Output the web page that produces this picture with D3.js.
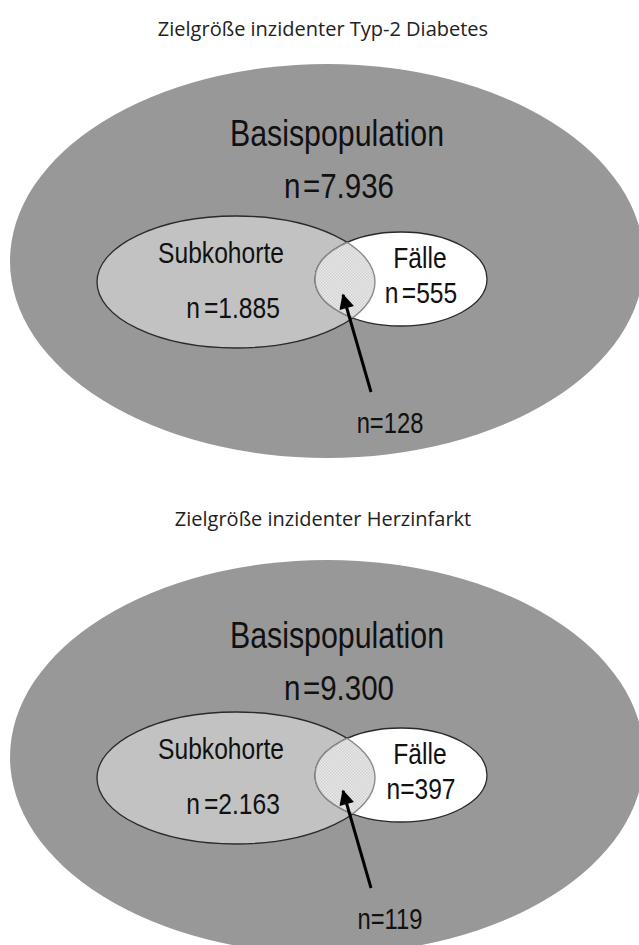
<!DOCTYPE html>
<html>
<head>
<meta charset="utf-8">
<script src="https://cdn.jsdelivr.net/npm/d3@7"></script>
<style>
  body { margin: 0; background: #fff; }
  .lbl { font-family: "Liberation Sans", Arial, sans-serif; fill: #111; text-anchor: middle; }
  .title { font-family: "Open Sans", "Noto Sans", sans-serif; fill: #222; text-anchor: middle; }
</style>
</head>
<body>
<svg id="chart" width="639" height="945"></svg>
<script>
const titles = ["Zielgröße inzidenter Typ-2 Diabetes", "Zielgröße inzidenter Herzinfarkt"];
const basisN = [7936, 9300];
const subkohorteN = [1885, 2163];
const faelleN = [555, 397];
const overlapN = [128, 119];

const de = d3.formatLocale({ decimal: ",", thousands: ".", grouping: [3], currency: ["", " €"] });
const fmt = de.format(",d");

const svg = d3.select("#chart");
const panelY = d3.scaleLinear().domain([0, 1]).range([0, 496]);
const narrow = 0.82; // the original labels use a condensed Arial

// pattern for the overlap area
const defs = svg.append("defs");
const pat = defs.append("pattern")
    .attr("id", "dots")
    .attr("width", 3).attr("height", 3)
    .attr("patternUnits", "userSpaceOnUse");
pat.append("rect").attr("width", 3).attr("height", 3).attr("fill", "#e9e9e9");
pat.append("rect").attr("width", 1.5).attr("height", 1.5).attr("fill", "#d2d2d2");
pat.append("rect").attr("x", 1.5).attr("y", 1.5).attr("width", 1.5).attr("height", 1.5).attr("fill", "#d2d2d2");

defs.append("marker")
    .attr("id", "head")
    .attr("viewBox", "0 0 10 10")
    .attr("refX", 9).attr("refY", 5)
    .attr("markerWidth", 6).attr("markerHeight", 5)
    .attr("markerUnits", "strokeWidth")
    .attr("orient", "auto")
    .append("path").attr("d", "M0,0L10,5L0,10z").attr("fill", "#000");

const sub = { cx: 236, cy: 282, rx: 139, ry: 66 };
const cas = { cx: 401, cy: 279, rx: 86, ry: 47 };

function label(g, x, y, size, text, gap) {
    const t = g.append("g")
        .attr("transform", `translate(${x},${y}) scale(${narrow},1)`)
        .append("text").attr("class", "lbl")
        .style("font-size", `${size}px`);
    if (gap) {
        // "n =..." with the little gap seen in the original
        t.append("tspan").text("n");
        t.append("tspan").attr("dx", gap).text(text.slice(1));
    } else {
        t.text(text);
    }
}

titles.forEach((title, i) => {
    const g = svg.append("g").attr("transform", `translate(0,${panelY(i)})`);
    const extra = i === 1 ? 6 : 0;

    svg.append("text").attr("class", "title")
        .attr("x", 323).attr("y", 36 + panelY(i) - (i === 1 ? 6 : 0))
        .style("font-size", "20px")
        .text(title);

    g.append("ellipse")
        .attr("cx", 327).attr("cy", 261).attr("rx", 317).attr("ry", 197)
        .attr("fill", "#989898");

    // clip paths
    defs.append("clipPath").attr("id", `clipSub${i}`)
        .append("ellipse").attr("cx", sub.cx).attr("cy", sub.cy).attr("rx", sub.rx).attr("ry", sub.ry);
    defs.append("clipPath").attr("id", `clipCas${i}`)
        .append("ellipse").attr("cx", cas.cx).attr("cy", cas.cy).attr("rx", cas.rx).attr("ry", cas.ry);

    g.append("ellipse")
        .attr("cx", sub.cx).attr("cy", sub.cy).attr("rx", sub.rx).attr("ry", sub.ry)
        .attr("fill", "#c2c2c2").attr("stroke", "#2a2a2a").attr("stroke-width", 1.3);
    g.append("ellipse")
        .attr("cx", cas.cx).attr("cy", cas.cy).attr("rx", cas.rx).attr("ry", cas.ry)
        .attr("fill", "#fff").attr("stroke", "#2a2a2a").attr("stroke-width", 1.3);

    // overlap
    g.append("ellipse")
        .attr("clip-path", `url(#clipSub${i})`)
        .attr("cx", cas.cx).attr("cy", cas.cy).attr("rx", cas.rx).attr("ry", cas.ry)
        .attr("fill", "url(#dots)").attr("stroke", "#8c8c8c").attr("stroke-width", 1.4);
    g.append("ellipse")
        .attr("clip-path", `url(#clipCas${i})`)
        .attr("cx", sub.cx).attr("cy", sub.cy).attr("rx", sub.rx).attr("ry", sub.ry)
        .attr("fill", "none").attr("stroke", "#8c8c8c").attr("stroke-width", 1.4);

    // arrow
    g.append("line")
        .attr("x1", 371).attr("y1", 392).attr("x2", 343).attr("y2", 295)
        .attr("stroke", "#000").attr("stroke-width", 3)
        .attr("marker-end", "url(#head)");

    label(g, 337, 146 + extra, 37, "Basispopulation");
    label(g, 339, 198 + extra, 36, `n=${fmt(basisN[i])}`, 3);
    label(g, 221, 263, 30, "Subkohorte");
    label(g, 233, 318, 30, `n=${fmt(subkohorteN[i])}`, 5);
    label(g, 420, 268, 30, "Fälle");
    label(g, 421, 303, 30, `n=${fmt(faelleN[i])}`, i === 0 ? 4 : 0);
    label(g, 390, 433, 29, `n=${fmt(overlapN[i])}`);
});
</script>
</body>
</html>
